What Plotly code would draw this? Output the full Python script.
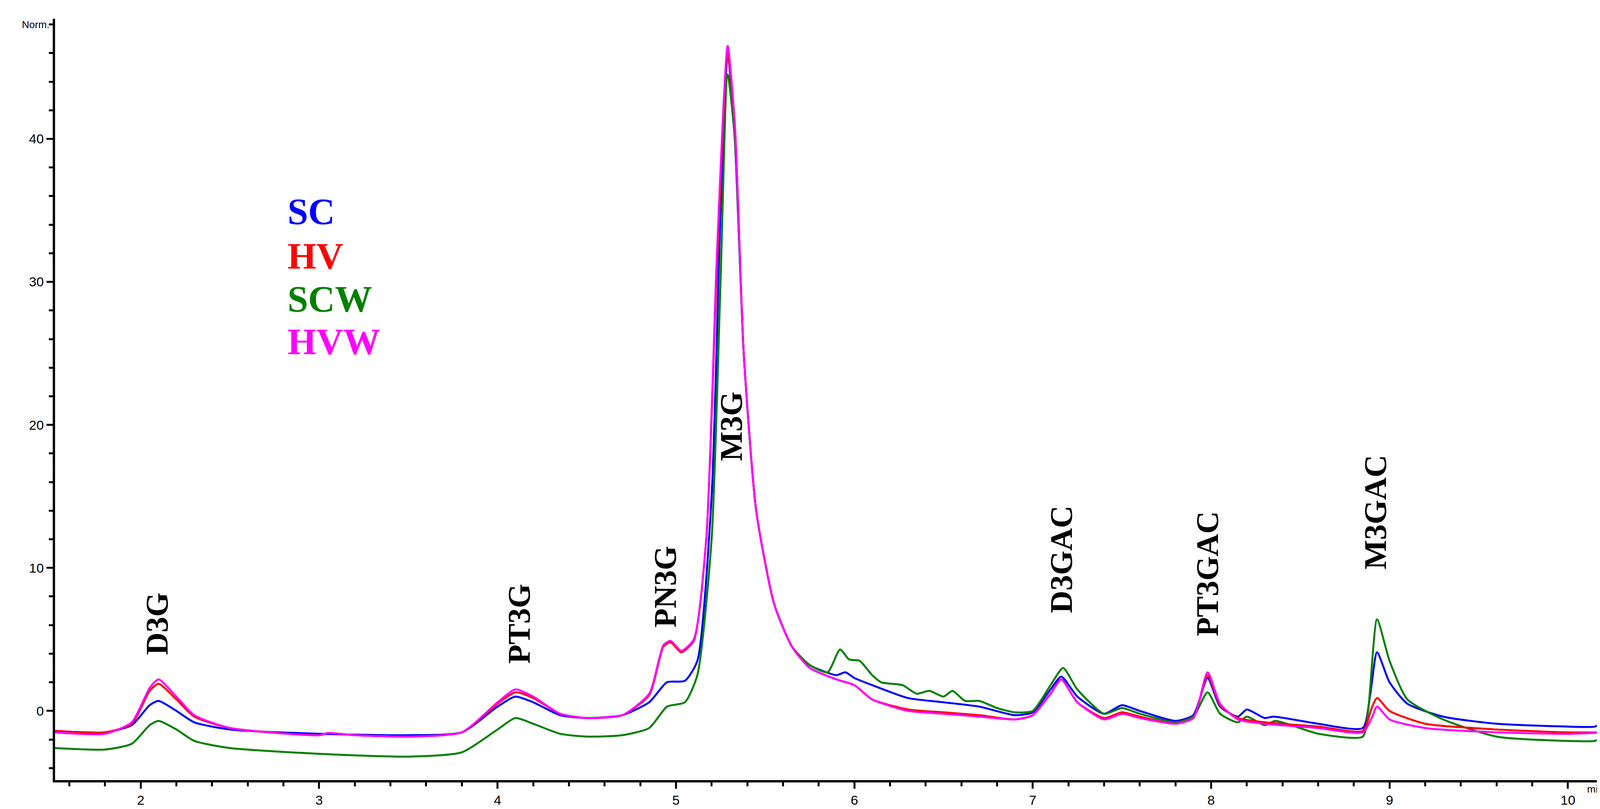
import plotly.graph_objects as go

t_sc = [1.52,1.8,1.95,2.05,2.1,2.2,2.3,2.5,3.0,3.5,3.8,4.0,4.1,4.2,4.35,4.5,4.7,4.85,4.95,5.05,5.12,5.2,5.25,5.29,5.33,5.38,5.45,5.55,5.65,5.75,5.9,5.95,6.0,6.1,6.3,6.5,6.7,6.9,7.0,7.1,7.16,7.25,7.4,7.5,7.6,7.8,7.9,7.98,8.05,8.15,8.2,8.3,8.35,8.6,8.85,8.89,8.93,9.0,9.1,9.3,9.6,10.0,10.15,10.2,10.23]
y_sc = [-1.4,-1.5,-1.0,0.4,0.7,0.0,-0.8,-1.3,-1.6,-1.7,-1.5,0.3,1.0,0.6,-0.3,-0.5,-0.3,0.6,2.0,2.1,3.5,15,35,46,40,25,14,7.5,4.5,3.2,2.5,2.7,2.3,1.8,0.9,0.6,0.3,-0.3,-0.1,1.5,2.4,1.0,-0.2,0.4,0.0,-0.7,-0.3,2.3,0.3,-0.4,0.1,-0.5,-0.4,-0.9,-1.2,1.0,4.1,2.0,0.5,-0.4,-0.9,-1.1,-1.1,-0.8,-0.8]

t_hv = [1.52,1.8,1.95,2.05,2.1,2.2,2.3,2.5,3.0,3.05,3.2,3.5,3.8,4.0,4.1,4.2,4.35,4.5,4.7,4.85,4.93,4.97,5.03,5.1,5.17,5.23,5.29,5.33,5.38,5.45,5.55,5.65,5.75,5.9,6.0,6.1,6.3,6.5,6.7,6.9,7.0,7.1,7.16,7.25,7.4,7.5,7.6,7.8,7.9,7.98,8.05,8.15,8.3,8.6,8.85,8.9,8.93,9.0,9.2,9.6,10.0,10.23]
y_hv = [-1.4,-1.5,-0.9,1.4,1.9,0.8,-0.4,-1.2,-1.7,-1.55,-1.7,-1.8,-1.5,0.5,1.3,0.9,-0.2,-0.5,-0.3,1.1,4.5,4.8,4.1,4.9,12,31,46,41,25,14,7.5,4.5,3.0,2.2,1.8,0.8,0.1,-0.1,-0.3,-0.6,-0.3,1.2,2.2,0.6,-0.5,-0.1,-0.4,-0.9,-0.5,2.5,0.4,-0.5,-0.8,-1.1,-1.4,0.2,0.9,0.0,-0.9,-1.3,-1.5,-1.5]

t_hvw = t_hv
y_hvw = [-1.5,-1.6,-0.8,1.6,2.2,1.0,-0.3,-1.2,-1.7,-1.55,-1.7,-1.8,-1.5,0.6,1.5,1.0,-0.2,-0.5,-0.3,1.2,4.6,4.9,4.2,5.0,12,32,46.5,41,25,14,7.5,4.5,3.0,2.2,1.8,0.8,0.0,-0.2,-0.4,-0.6,-0.3,1.2,2.2,0.6,-0.6,-0.2,-0.5,-0.9,-0.5,2.7,0.5,-0.6,-0.9,-1.2,-1.5,-0.5,0.3,-0.6,-1.2,-1.5,-1.6,-1.5]

t_scw = [1.52,1.8,1.95,2.05,2.1,2.2,2.3,2.5,3.0,3.5,3.8,4.0,4.1,4.2,4.35,4.5,4.7,4.85,4.95,5.05,5.12,5.2,5.25,5.29,5.33,5.38,5.45,5.55,5.65,5.75,5.85,5.92,5.97,6.03,6.1,6.15,6.27,6.35,6.42,6.5,6.55,6.62,6.7,6.8,6.9,7.0,7.1,7.17,7.25,7.4,7.5,7.6,7.8,7.9,7.98,8.05,8.15,8.2,8.3,8.36,8.6,8.85,8.88,8.93,9.0,9.1,9.3,9.6,10.0,10.15,10.2,10.23]
y_scw = [-2.6,-2.7,-2.3,-1.0,-0.7,-1.3,-2.1,-2.6,-3.0,-3.2,-2.9,-1.3,-0.5,-0.9,-1.6,-1.8,-1.7,-1.2,0.3,0.6,2.5,12,30,44.5,40,25,14,7.5,4.5,3.2,2.7,4.3,3.6,3.5,2.5,2.0,1.8,1.2,1.4,1.0,1.4,0.7,0.7,0.2,-0.1,0.0,1.8,3.0,1.5,-0.2,0.2,-0.2,-0.8,-0.4,1.3,-0.2,-0.8,-0.4,-1.0,-0.7,-1.6,-1.8,0.0,6.4,3.5,0.8,-0.6,-1.8,-2.1,-2.1,-1.8,-1.8]

series = [("SC", t_sc, y_sc, "#0000ff"), ("SCW", t_scw, y_scw, "#008000"),
          ("HV", t_hv, y_hv, "#ff0000"), ("HVW", t_hvw, y_hvw, "#ff00ff")]

peak_names = ["D3G","PT3G","PN3G","M3G","D3GAC","PT3GAC","M3GAC"]
peak_t = [2.09,4.12,4.94,5.31,7.16,7.98,8.92]
peak_y = [6.1,6.1,8.7,19.9,10.6,9.6,13.9]

legend_names = ["SC","HV","SCW","HVW"]
legend_colors = ["#0000ff","#ff0000","#008000","#ff00ff"]
legend_y = [34.9,31.8,28.8,25.8]

fig = go.Figure()
for name, t, y, c in series:
    fig.add_trace(go.Scatter(x=t, y=y, mode="lines", name=name,
                             line=dict(color=c, width=5, shape="spline", smoothing=0.6)))

for n, x, y in zip(peak_names, peak_t, peak_y):
    fig.add_annotation(x=x, y=y, text="<b>%s</b>" % n, showarrow=False, textangle=-90,
                       font=dict(family="Liberation Serif", size=80, color="black"))
for n, c, y in zip(legend_names, legend_colors, legend_y):
    fig.add_annotation(x=0.149, xref="paper", y=y, text="<b>%s</b>" % n, showarrow=False,
                       xanchor="left", font=dict(family="Liberation Serif", size=95, color=c))
fig.add_annotation(x=0, xref="paper", y=48.0, text="Norm.", showarrow=False, xanchor="right",
                   xshift=-12, font=dict(family="Liberation Sans", size=26, color="black"))
fig.add_annotation(x=0.997, xref="paper", y=-4.84, text="min", showarrow=False, xanchor="right",
                   yanchor="top", yshift=-6, font=dict(family="Liberation Sans", size=26, color="black"))

axcommon = dict(showline=True, linecolor="black", linewidth=6, showgrid=False, zeroline=False,
                ticks="outside", ticklen=16, tickwidth=5, tickcolor="black",
                tickfont=dict(family="Liberation Sans", size=34, color="black"))
fig.update_xaxes(range=[1.52, 10.23], tickvals=[2,3,4,5,6,7,8,9,10],
                 minor=dict(dtick=0.2, ticks="outside", ticklen=10, tickwidth=5, tickcolor="black"),
                 **axcommon)
fig.update_yaxes(range=[-4.84, 48.4], tickvals=[0,10,20,30,40],
                 minor=dict(dtick=2, ticks="outside", ticklen=10, tickwidth=5, tickcolor="black"),
                 **axcommon)
fig.update_layout(width=4138, height=2071, showlegend=False, plot_bgcolor="white",
                  paper_bgcolor="white", margin=dict(l=133, r=27, t=40, b=63))
fig.write_html("out.html")
